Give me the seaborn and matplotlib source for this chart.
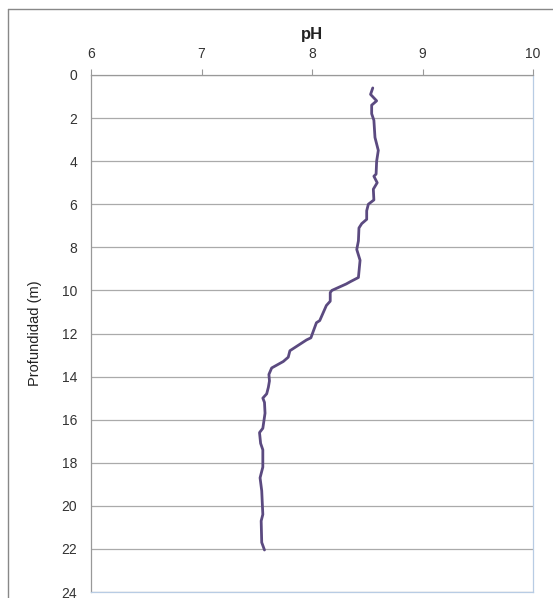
import matplotlib
matplotlib.use("Agg")
import matplotlib.pyplot as plt
import seaborn as sns
import pandas as pd
from matplotlib.lines import Line2D

sns.set_theme(style="white")
plt.rcParams["font.family"] = ["Liberation Sans", "DejaVu Sans"]

# depth (m) and pH
depth = [0.6, 0.9, 1.2, 1.4, 1.8, 2.1, 2.9, 3.5, 4.0, 4.6, 4.7, 5.0, 5.3, 5.8,
         6.0, 6.3, 6.7, 6.9, 7.1, 7.7, 8.1, 8.6, 9.4, 9.6, 9.7, 10.0, 10.1,
         10.5, 10.7, 11.4, 11.5, 12.2, 12.3, 12.8, 13.1, 13.3, 13.6, 13.9,
         14.2, 14.5, 14.8, 15.0, 15.2, 15.7, 16.4, 16.6, 17.1, 17.4, 18.2,
         18.7, 19.3, 20.4, 20.7, 21.7, 22.05]
ph = [8.55, 8.53, 8.585, 8.54, 8.54, 8.56, 8.57, 8.60, 8.585, 8.58, 8.56,
      8.59, 8.555, 8.56, 8.51, 8.495, 8.495, 8.45, 8.425, 8.42, 8.405, 8.435,
      8.42, 8.345, 8.31, 8.18, 8.165, 8.165, 8.13, 8.07, 8.04, 7.99, 7.95,
      7.80, 7.785, 7.74, 7.635, 7.61, 7.615, 7.605, 7.59, 7.555, 7.57, 7.575,
      7.555, 7.525, 7.535, 7.555, 7.555, 7.53, 7.545, 7.555, 7.54, 7.545, 7.57]

df = pd.DataFrame({"depth": depth, "pH": ph})

fig = plt.figure(figsize=(5.53, 5.98), dpi=100)
ax = fig.add_axes([91 / 553, 1 - 592 / 598, (533 - 91) / 553, (592 - 75) / 598])

sns.lineplot(data=df, x="pH", y="depth", orient="y", sort=False, estimator=None,
             color="#5b4a80", linewidth=2.0, ax=ax)

ax.set_xlim(6, 10)
ax.set_ylim(24, 0)
ax.set_xticks([6, 7, 8, 9, 10])
ax.set_yticks(range(0, 25, 2))
ax.xaxis.tick_top()
ax.xaxis.set_label_position("top")
ax.set_xlabel("pH", fontsize=12, fontweight="bold", color="#222222", labelpad=6)
ax.set_ylabel("Profundidad (m)", fontsize=10.5, color="#222222", labelpad=14)
ax.tick_params(axis="both", labelsize=10, colors="#999999", labelcolor="#333333",
               length=4, width=0.8, direction="out", pad=6)

ax.grid(axis="y", color="#aaaaaa", linewidth=0.9)
ax.grid(axis="x", visible=False)
for side in ["top", "left"]:
    ax.spines[side].set_color("#999999")
    ax.spines[side].set_linewidth(0.9)
for side in ["bottom", "right"]:
    ax.spines[side].set_color("#b8cce4")
    ax.spines[side].set_linewidth(0.9)

# outer chart frame (cut off at right and bottom)
fig.add_artist(Line2D([8 / 553, 1.0], [1 - 9 / 598, 1 - 9 / 598],
                      transform=fig.transFigure, color="#888888", linewidth=1.0))
fig.add_artist(Line2D([8 / 553, 8 / 553], [0.0, 1 - 9 / 598],
                      transform=fig.transFigure, color="#888888", linewidth=1.0))

fig.savefig("out.png", dpi=100)
plt.close(fig)
